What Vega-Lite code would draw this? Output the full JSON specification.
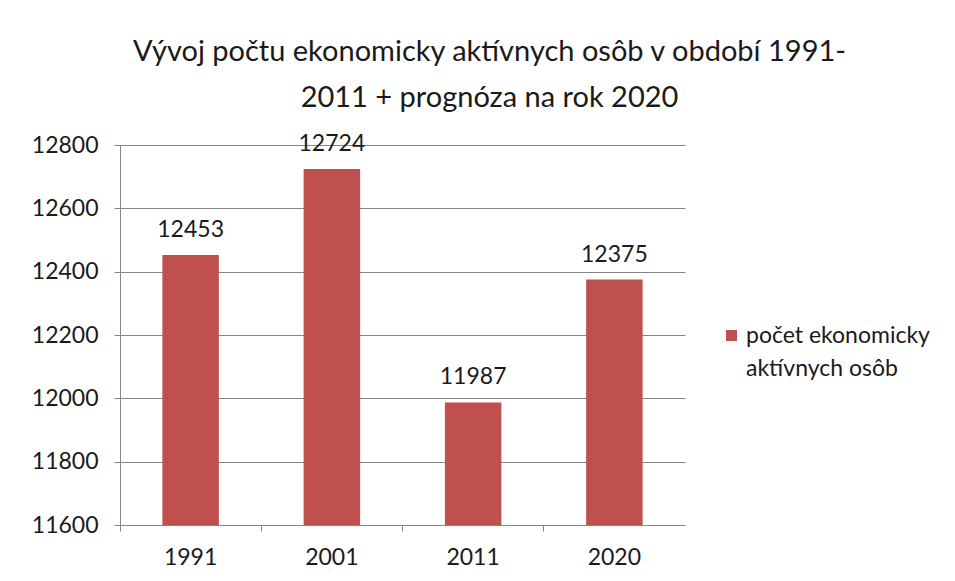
{
  "$schema": "https://vega.github.io/schema/vega-lite/v6.json",
  "autosize": "none",
  "width": 565,
  "height": 380,
  "padding": {"left": 120, "top": 145, "right": 270, "bottom": 56},
  "background": "white",
  "title": {
    "text": ["Vývoj počtu ekonomicky aktívnych osôb v období 1991-", "2011 + prognóza na rok 2020"],
    "font": "Lato",
    "fontSize": 29,
    "fontWeight": "normal",
    "color": "#1a1a1a",
    "lineHeight": 46,
    "anchor": "middle",
    "dx": 87,
    "offset": 20
  },
  "data": {
    "values": [
      {"rok": "1991", "pocet": 12453, "seria": "počet ekonomicky aktívnych osôb"},
      {"rok": "2001", "pocet": 12724, "seria": "počet ekonomicky aktívnych osôb"},
      {"rok": "2011", "pocet": 11987, "seria": "počet ekonomicky aktívnych osôb"},
      {"rok": "2020", "pocet": 12375, "seria": "počet ekonomicky aktívnych osôb"}
    ]
  },
  "encoding": {
    "x": {
      "field": "rok",
      "type": "nominal",
      "sort": null,
      "scale": {"paddingInner": 0, "paddingOuter": 0},
      "axis": {
        "title": null,
        "labelAngle": 0,
        "labelFont": "Lato",
        "labelFontSize": 23,
        "labelColor": "#1a1a1a",
        "labelPadding": 15,
        "bandPosition": 0,
        "tickSize": 6,
        "tickColor": "#868686",
        "domainColor": "#868686",
        "grid": false
      }
    },
    "y": {
      "field": "pocet",
      "type": "quantitative",
      "scale": {"domain": [11600, 12800], "zero": false, "nice": false},
      "axis": {
        "title": null,
        "values": [11600, 11800, 12000, 12200, 12400, 12600, 12800],
        "format": "d",
        "labelFont": "Lato",
        "labelFontSize": 23,
        "labelColor": "#1a1a1a",
        "labelPadding": 16,
        "tickSize": 6,
        "tickColor": "#868686",
        "domainColor": "#868686",
        "gridColor": "#868686",
        "gridWidth": 1
      }
    }
  },
  "layer": [
    {
      "mark": {"type": "bar", "width": {"band": 0.4}, "clip": true},
      "encoding": {
        "color": {
          "field": "seria",
          "type": "nominal",
          "scale": {"range": ["#C0504D"]},
          "legend": {
            "title": null,
            "orient": "none",
            "legendX": 600,
            "legendY": 179,
            "symbolType": "square",
            "symbolSize": 121,
            "symbolStrokeWidth": 0,
            "labelOffset": 3,
            "labelFont": "Lato",
            "labelFontSize": 23,
            "labelColor": "#1a1a1a",
            "labelLimit": 300,
            "labelExpr": "['počet ekonomicky', 'aktívnych osôb']",
            "encode": {"labels": {"update": {"lineHeight": {"value": 33}}}}
          }
        }
      }
    },
    {
      "mark": {
        "type": "text",
        "baseline": "bottom",
        "dy": -13,
        "font": "Lato",
        "fontSize": 23,
        "color": "#1a1a1a"
      },
      "encoding": {"text": {"field": "pocet", "type": "quantitative", "format": "d"}}
    }
  ],
  "config": {"view": {"stroke": null}}
}
